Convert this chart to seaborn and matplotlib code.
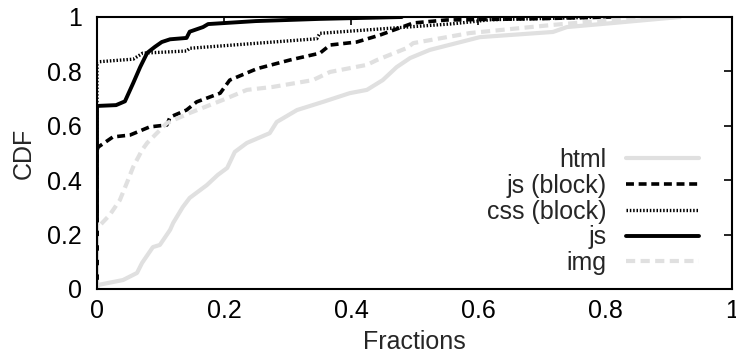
import numpy as np
import pandas as pd
import matplotlib
matplotlib.use("Agg")
import matplotlib.pyplot as plt
import seaborn as sns

# ---- data ----
html_x = [0.0, 0.002, 0.041, 0.063, 0.071, 0.088, 0.099, 0.115, 0.12, 0.135, 0.146, 0.173, 0.19, 0.205,
          0.217, 0.236, 0.272, 0.283, 0.315, 0.356, 0.398, 0.425, 0.45, 0.472, 0.493, 0.524, 0.603,
          0.718, 0.74, 0.813, 0.87, 0.918]
html_y = [0.0, 0.015, 0.033, 0.059, 0.096, 0.154, 0.162, 0.217, 0.243, 0.301, 0.335, 0.382, 0.419, 0.445,
          0.504, 0.537, 0.573, 0.614, 0.658, 0.688, 0.72, 0.732, 0.768, 0.816, 0.849, 0.879, 0.926,
          0.945, 0.963, 0.978, 0.99, 1.0]

jsb_x = [0.0, 0.0, 0.002, 0.025, 0.052, 0.083, 0.11, 0.115, 0.141, 0.157, 0.194, 0.209, 0.252, 0.304,
         0.351, 0.367, 0.409, 0.446, 0.498, 0.55, 0.7, 0.81]
jsb_y = [0.0, 0.51, 0.522, 0.559, 0.566, 0.596, 0.603, 0.632, 0.658, 0.688, 0.72, 0.768, 0.81, 0.842,
         0.867, 0.897, 0.908, 0.934, 0.978, 0.989, 0.994, 1.0]

cssb_x = [0.0, 0.0, 0.057, 0.072, 0.141, 0.146, 0.346, 0.351, 0.488, 0.56, 0.62, 0.8]
cssb_y = [0.0, 0.835, 0.845, 0.867, 0.875, 0.885, 0.92, 0.94, 0.963, 0.975, 0.99, 1.0]

js_x = [0.0, 0.0, 0.03, 0.044, 0.057, 0.068, 0.079, 0.091, 0.102, 0.115, 0.141, 0.146, 0.167, 0.175,
        0.25, 0.35, 0.48]
js_y = [0.0, 0.673, 0.676, 0.69, 0.757, 0.816, 0.868, 0.89, 0.908, 0.918, 0.923, 0.946, 0.963, 0.974,
        0.985, 0.993, 1.0]

img_x = [0.0, 0.0, 0.002, 0.02, 0.036, 0.047, 0.057, 0.071, 0.079, 0.11, 0.146, 0.198, 0.236, 0.277,
         0.34, 0.367, 0.425, 0.441, 0.488, 0.498, 0.587, 0.718, 0.81, 0.91]
img_y = [0.0, 0.24, 0.228, 0.272, 0.327, 0.39, 0.449, 0.511, 0.537, 0.61, 0.647, 0.695, 0.732, 0.743,
         0.768, 0.798, 0.824, 0.842, 0.886, 0.904, 0.941, 0.971, 0.989, 1.0]

series_names = ["html", "js (block)", "css (block)", "js", "img"]
x_ticks = [0, 0.2, 0.4, 0.6, 0.8, 1]
x_tick_labels = ["0", "0.2", "0.4", "0.6", "0.8", "1"]
y_ticks = [0, 0.2, 0.4, 0.6, 0.8, 1]
y_tick_labels = ["0", "0.2", "0.4", "0.6", "0.8", "1"]

sns.set_style("white")
plt.rcParams["font.family"] = ["Liberation Sans", "DejaVu Sans"]

fs = 18
fig = plt.figure(figsize=(7.36, 3.62), dpi=100)
ax = fig.add_axes([97 / 736, 1 - 289 / 362, 635 / 736, 272 / 362])

grey = "#e0e0e0"
styles = [
    (html_x, html_y, dict(color=grey, lw=3.0, linestyle="-")),
    (jsb_x, jsb_y, dict(color="black", lw=2.6, linestyle=(0, (2.2, 1.3)))),
    (cssb_x, cssb_y, dict(color="black", lw=2.4, linestyle=(0, (0.45, 0.55)))),
    (js_x, js_y, dict(color="black", lw=2.8, linestyle="-")),
    (img_x, img_y, dict(color=grey, lw=3.0, linestyle=(0, (2.2, 1.3)))),
]
for name, (xs, ys, st) in zip(series_names, styles):
    df = pd.DataFrame({"x": xs, "y": ys})
    sns.lineplot(data=df, x="x", y="y", ax=ax, sort=False, estimator=None,
                 label=name, **st)

ax.set_xlim(0, 1)
ax.set_ylim(0, 1)
ax.set_xticks(x_ticks)
ax.set_xticklabels(x_tick_labels)
ax.set_yticks(y_ticks)
ax.set_yticklabels(y_tick_labels)
ax.tick_params(direction="in", length=6, width=1.2, labelsize=fs, top=True, right=True,
               colors="black")
ax.tick_params(axis="x", pad=7)
ax.tick_params(axis="y", pad=11)
for s in ax.spines.values():
    s.set_color("black")
    s.set_linewidth(1.5)
ax.set_xlabel("Fractions", fontsize=fs, labelpad=5)
ax.set_ylabel("CDF", fontsize=fs, labelpad=8)

leg = ax.legend(loc="lower right", bbox_to_anchor=(0.967, 0.005), frameon=False, markerfirst=False,
                fontsize=fs, handlelength=2.92, handletextpad=0.76, labelspacing=0.07, borderpad=0)

fig.savefig("out.png", dpi=100)
